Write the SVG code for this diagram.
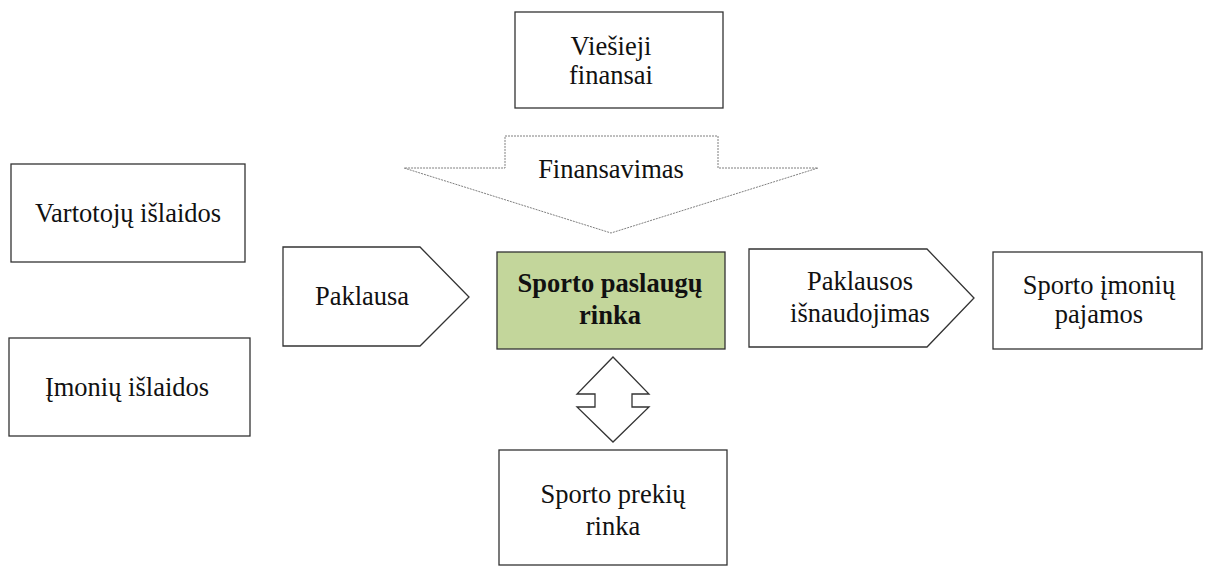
<svg xmlns="http://www.w3.org/2000/svg" width="1206" height="567" viewBox="0 0 1206 567">
  <style>
    .box { fill: #ffffff; stroke: #333333; stroke-width: 1.3; }
    .core { fill: #c3d69b; stroke: #333333; stroke-width: 1.3; }
    .flow { fill: #ffffff; stroke: #7f7f7f; stroke-width: 1; stroke-dasharray: 2 1; }
    .lbl { font-family: "Liberation Serif", "Times New Roman", serif; font-size: 26.5px; fill: #111111; text-anchor: middle; }
    .bold { font-weight: bold; }
  </style>
  <rect width="1206" height="567" fill="#ffffff"/>

  <!-- funding source -->
  <g id="viesieji-finansai">
    <rect class="box" x="515" y="12" width="208" height="96"/>
    <text class="lbl" x="611" y="55">Viešieji</text>
    <text class="lbl" x="611" y="84">finansai</text>
  </g>

  <!-- spending sources -->
  <g id="vartotoju-islaidos">
    <rect class="box" x="11" y="164" width="234" height="98"/>
    <text class="lbl" x="128" y="222">Vartotojų išlaidos</text>
  </g>
  <g id="imoniu-islaidos">
    <rect class="box" x="9" y="338" width="241" height="98"/>
    <text class="lbl" x="127" y="396">Įmonių išlaidos</text>
  </g>

  <!-- demand pentagon -->
  <g id="paklausa">
    <path class="box" d="M283,247 H420 L469,297 L420,346 H283 Z"/>
    <text class="lbl" x="362" y="305">Paklausa</text>
  </g>

  <!-- central market -->
  <g id="sporto-paslaugu-rinka">
    <rect class="core" x="497" y="252" width="228" height="97"/>
    <text class="lbl bold" x="610" y="292">Sporto paslaugų</text>
    <text class="lbl bold" x="610" y="324">rinka</text>
  </g>

  <!-- demand usage pentagon -->
  <g id="paklausos-isnaudojimas">
    <path class="box" d="M749,249 H927 L974,298 L927,347 H749 Z"/>
    <text class="lbl" x="860" y="290">Paklausos</text>
    <text class="lbl" x="860" y="322">išnaudojimas</text>
  </g>

  <!-- revenue -->
  <g id="sporto-imoniu-pajamos">
    <rect class="box" x="993" y="252" width="209" height="97"/>
    <text class="lbl" x="1099" y="294">Sporto įmonių</text>
    <text class="lbl" x="1099" y="323">pajamos</text>
  </g>

  <!-- goods market -->
  <g id="sporto-prekiu-rinka">
    <rect class="box" x="499" y="450" width="228" height="115"/>
    <text class="lbl" x="613" y="503">Sporto prekių</text>
    <text class="lbl" x="613" y="535">rinka</text>
  </g>

  <!-- connectors -->
  <g id="connectors">
    <g id="finansavimas">
      <path class="flow" d="M505,136 H718 V168 H818 L611,233 L404,168 H505 Z"/>
      <text class="lbl" x="611" y="178">Finansavimas</text>
    </g>
    <path id="mainai" class="box" d="M613,357 L649,394 H632 V407 H649 L613,442 L577,407 H595 V394 H577 Z"/>
  </g>
</svg>
